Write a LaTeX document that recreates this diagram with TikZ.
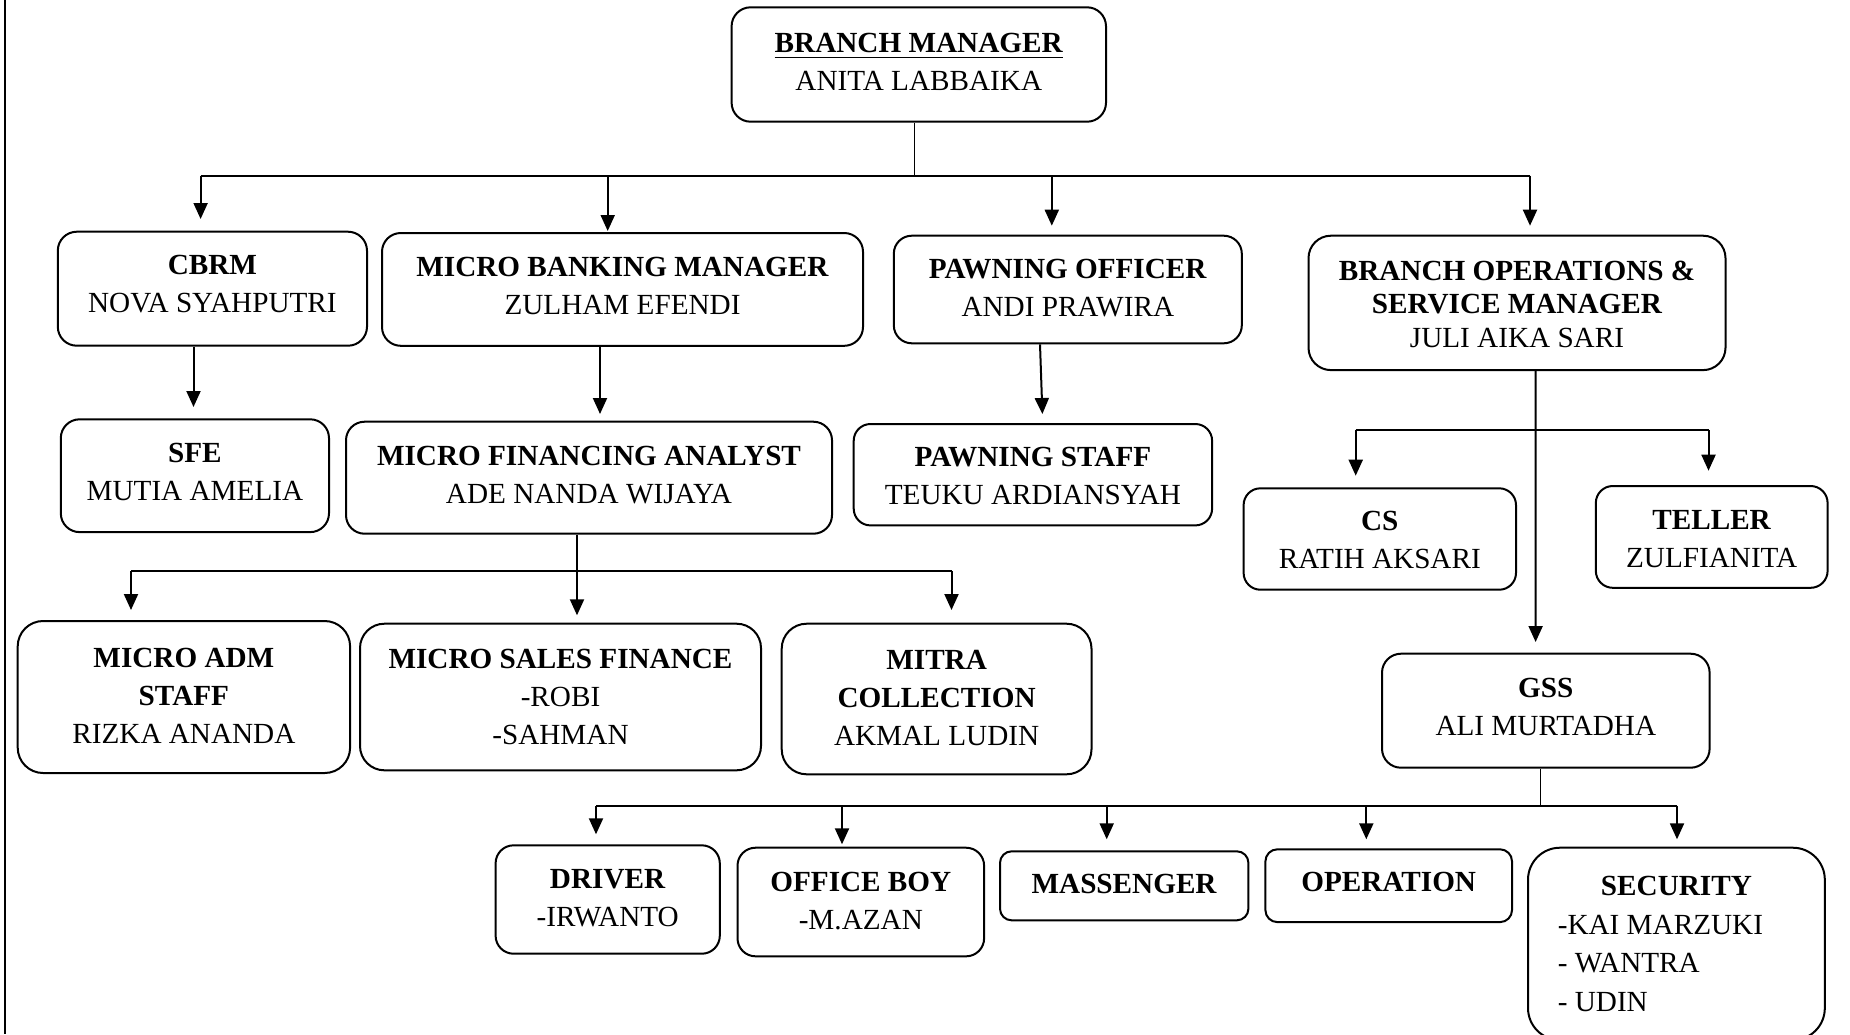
\documentclass[tikz,border=0pt]{standalone}
\usepackage{fontspec}
\setmainfont{Liberation Serif}
\usetikzlibrary{arrows.meta}
\newlength\stc
\newcommand\stl{\rule[\dimexpr\stc-0.5\baselineskip\relax]{0pt}{\baselineskip}}
\newcommand\sts{\rule[-4.825pt]{0pt}{19.25pt}}
\newcommand\ulbm[1]{\setbox0\hbox{#1}\rlap{\rule[-2.8pt]{\wd0}{0.9pt}}\box0}
\begin{document}
\begin{tikzpicture}[x=0.5pt,y=-0.5pt,
  ob/.style={draw,line width=1pt,align=center,inner sep=0pt,
    font=\fontsize{14.6}{19}\selectfont,
    execute at begin node={\setlength\stc{4.8pt}}},
  txtoff/.style={execute at begin node={\setlength\stc{#1}}},
  ln/.style={line width=0.6pt},
  bus/.style={line width=1pt},
  arr/.style={line width=1pt,-{Triangle[length=8pt,width=7pt]}}]
\useasboundingbox (0,0) rectangle (1850,1034);
\clip (0,0) rectangle (1850,1034);
\draw[line width=0.8pt] (5,0) -- (5,1034);

% boxes
\node[ob,txtoff=3.6pt,rounded corners=9.5pt,minimum width=187.2pt,minimum height=57.2pt] (bm) at (918.8,64.5)
  {\stl\ulbm{\textbf{BRANCH MANAGER}}\\\stl ANITA LABBAIKA};
\node[ob,txtoff=2.6pt,rounded corners=9.5pt,minimum width=154.6pt,minimum height=57pt] (cbrm) at (212.4,288.7)
  {\stl\textbf{CBRM}\\\stl NOVA SYAHPUTRI};
\node[ob,txtoff=3.1pt,rounded corners=9.4pt,minimum width=240.5pt,minimum height=56.4pt] (mbm) at (622.5,289.4)
  {\stl\textbf{MICRO BANKING MANAGER}\\\stl ZULHAM EFENDI};
\node[ob,txtoff=4.2pt,rounded corners=9pt,minimum width=174pt,minimum height=53.8pt] (po) at (1067.8,289.5)
  {\stl\textbf{PAWNING OFFICER}\\\stl ANDI PRAWIRA};
\node[ob,txtoff=5.4pt,rounded corners=11.2pt,minimum width=208.5pt,minimum height=67.2pt,
  font=\fontsize{14.6}{16.8}\selectfont] (bosm) at (1517,302.9)
  {\stl\textbf{BRANCH OPERATIONS \&}\\\stl\textbf{SERVICE MANAGER}\\\stl JULI AIKA SARI};
\node[ob,txtoff=3.1pt,rounded corners=9.4pt,minimum width=134.1pt,minimum height=56.4pt] (sfe) at (194.9,475.7)
  {\stl\textbf{SFE}\\\stl MUTIA AMELIA};
\node[ob,txtoff=3.6pt,rounded corners=9.3pt,minimum width=243pt,minimum height=56pt] (mfa) at (589,477.7)
  {\stl\textbf{MICRO FINANCING ANALYST}\\\stl ADE NANDA WIJAYA};
\node[ob,txtoff=5.4pt,rounded corners=8.4pt,minimum width=179.2pt,minimum height=50.7pt] (ps) at (1032.9,474.7)
  {\stl\textbf{PAWNING STAFF}\\\stl TEUKU ARDIANSYAH};
\node[ob,txtoff=5.4pt,rounded corners=8.4pt,minimum width=136.2pt,minimum height=50.7pt] (cs) at (1379.8,539)
  {\stl\textbf{CS}\\\stl RATIH AKSARI};
\node[ob,txtoff=5.9pt,rounded corners=8.5pt,minimum width=115.9pt,minimum height=50.9pt] (teller) at (1711.7,536.9)
  {\stl\textbf{TELLER}\\\stl ZULFIANITA};
\node[ob,txtoff=4.2pt,rounded corners=12.7pt,minimum width=166.2pt,minimum height=76pt] (madm) at (183.9,697)
  {\stl\textbf{MICRO ADM}\\\stl\textbf{STAFF}\\\stl RIZKA ANANDA};
\node[ob,rounded corners=12.2pt,minimum width=200.5pt,minimum height=73.3pt] (msf) at (560.5,697)
  {\stl\textbf{MICRO SALES FINANCE}\\\stl -ROBI\\\stl -SAHMAN};
\node[ob,txtoff=4.2pt,rounded corners=12.5pt,minimum width=154.9pt,minimum height=75.3pt] (mitra) at (936.6,699)
  {\stl\textbf{MITRA}\\\stl\textbf{COLLECTION}\\\stl AKMAL LUDIN};
\node[ob,txtoff=3.1pt,rounded corners=9.5pt,minimum width=163.8pt,minimum height=57pt] (gss) at (1545.8,710.7)
  {\stl\textbf{GSS}\\\stl ALI MURTADHA};
\node[ob,txtoff=4.2pt,rounded corners=9pt,minimum width=112.1pt,minimum height=54.2pt] (driver) at (607.7,899.5)
  {\stl\textbf{DRIVER}\\\stl -IRWANTO};
\node[ob,txtoff=4.2pt,rounded corners=9pt,minimum width=123.3pt,minimum height=54.3pt] (oboy) at (860.8,902)
  {\stl\textbf{OFFICE BOY}\\\stl -M.AZAN};
\node[ob,txtoff=3.6pt,rounded corners=5.8pt,minimum width=124.2pt,minimum height=34.5pt] (mass) at (1124.2,885.8)
  {\stl\textbf{MASSENGER}};
\node[ob,txtoff=3.1pt,rounded corners=6pt,minimum width=123.3pt,minimum height=36.4pt] (oper) at (1388.7,885.7)
  {\stl\textbf{OPERATION}};
\node[ob,rounded corners=16pt,minimum width=148.4pt,minimum height=96.2pt,
  font=\fontsize{14.6}{19.25}\selectfont] (sec) at (1676.4,943.9)
  {\sts\textbf{SECURITY}\\\def\arraystretch{0}\begin{tabular}[t]{@{}l@{}}\sts -KAI MARZUKI\\\sts - WANTRA\\\sts - UDIN\end{tabular}\hspace*{16pt}};

% bus levels
\coordinate (b1) at (0,175.7);
\coordinate (b2) at (0,430);
\coordinate (b3) at (0,571.3);
\coordinate (b4) at (0,805.7);

% sources
\coordinate (s-bm) at ([xshift=-2.15pt]bm.south);
\coordinate (s-po) at ([xshift=-13.9pt]po.south);
\coordinate (s-bosm) at ([xshift=9.3pt]bosm.south);
\coordinate (s-mfa) at ([xshift=-6pt]mfa.south);
\coordinate (s-gss) at ([xshift=-2.75pt]gss.south);

% tips
\coordinate (a-cbrm) at ([xshift=-5.9pt,yshift=5.85pt]cbrm.north);
\coordinate (a-mbm) at ([xshift=-7.4pt,yshift=0.5pt]mbm.north);
\coordinate (a-po) at ([xshift=-8pt,yshift=4.5pt]po.north);
\coordinate (a-bosm) at ([xshift=6.5pt,yshift=4.5pt]bosm.north);
\coordinate (a-sfe) at ([xshift=-0.7pt,yshift=5.65pt]sfe.north);
\coordinate (a-mfa) at ([xshift=5.5pt,yshift=3.35pt]mfa.north);
\coordinate (a-ps) at ([xshift=4.75pt,yshift=4.5pt]ps.north);
\coordinate (a-cs) at ([xshift=-12.05pt,yshift=5.8pt]cs.north);
\coordinate (a-teller) at ([xshift=-1.6pt,yshift=7.15pt]teller.north);
\coordinate (a-gss) at ([xshift=-5.1pt,yshift=5.35pt]gss.north);
\coordinate (a-madm) at ([xshift=-26.45pt,yshift=5pt]madm.north);
\coordinate (a-msf) at ([xshift=8.25pt,yshift=3.7pt]msf.north);
\coordinate (a-mitra) at ([xshift=7.45pt,yshift=6.35pt]mitra.north);
\coordinate (a-driver) at ([xshift=-5.85pt,yshift=5pt]driver.north);
\coordinate (a-oboy) at ([xshift=-9.4pt,yshift=1.2pt]oboy.north);
\coordinate (a-mass) at ([xshift=-8.75pt,yshift=5.5pt]mass.north);
\coordinate (a-oper) at ([xshift=-11.2pt,yshift=4.5pt]oper.north);
\coordinate (a-sec) at ([xshift=0.3pt,yshift=3.7pt]sec.north);

% level 1
\draw[ln] (s-bm) -- (s-bm |- b1);
\draw[bus] (a-cbrm |- b1) -- (a-bosm |- b1);
\draw[arr] (a-cbrm |- b1) -- (a-cbrm);
\draw[arr] (a-mbm |- b1) -- (a-mbm);
\draw[arr] (a-po |- b1) -- (a-po);
\draw[arr] (a-bosm |- b1) -- (a-bosm);

% level 2
\draw[arr] (a-sfe |- cbrm.south) -- (a-sfe);
\draw[arr] (a-mfa |- mbm.south) -- (a-mfa);
\draw[arr] (s-po) -- (a-ps);

% BOSM branch
\draw[arr] (s-bosm) -- (a-gss);
\draw[bus] (a-cs |- b2) -- (a-teller |- b2);
\draw[arr] (a-cs |- b2) -- (a-cs);
\draw[arr] (a-teller |- b2) -- (a-teller);

% MFA branch
\draw[ln] (s-mfa) -- (s-mfa |- b3);
\draw[bus] (a-madm |- b3) -- (a-mitra |- b3);
\draw[arr] (a-madm |- b3) -- (a-madm);
\draw[arr] (a-msf |- b3) -- (a-msf);
\draw[arr] (a-mitra |- b3) -- (a-mitra);

% GSS branch
\draw[ln] (s-gss) -- (s-gss |- b4);
\draw[bus] (a-driver |- b4) -- (a-sec |- b4);
\draw[arr] (a-driver |- b4) -- (a-driver);
\draw[arr] (a-oboy |- b4) -- (a-oboy);
\draw[arr] (a-mass |- b4) -- (a-mass);
\draw[arr] (a-oper |- b4) -- (a-oper);
\draw[arr] (a-sec |- b4) -- (a-sec);
\end{tikzpicture}
\end{document}
